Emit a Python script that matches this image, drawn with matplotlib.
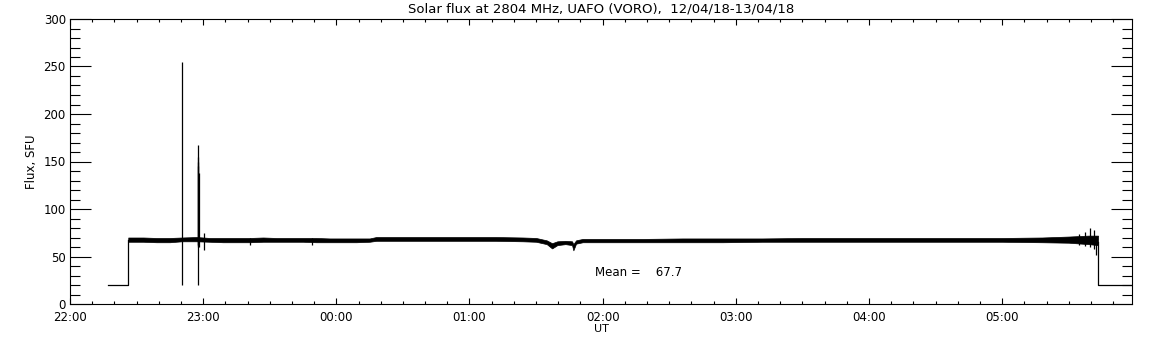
import matplotlib
matplotlib.use("Agg")
import matplotlib.pyplot as plt
from matplotlib.ticker import MultipleLocator, FuncFormatter

# ---- data (time in hours UT, 22.0 = 22:00 on 12/04, 24+ = next day) ----
# baseline (receiver off) segments
base_start_t = [22.283, 22.4375]
base_start_v = [20, 20]
base_end_t = [29.72, 29.975]
base_end_v = [20, 20]

# noise envelope of the flux trace (lower / upper edge), SFU
env_t  = [22.4375, 22.55, 22.65, 22.75, 22.84, 22.95, 23.05, 23.15, 23.25, 23.35,
          23.45, 23.55, 23.65, 23.75, 23.85, 23.95, 24.05, 24.15, 24.25, 24.30,
          24.40, 24.60, 24.80, 25.00, 25.20, 25.40, 25.50, 25.58, 25.62, 25.66,
          25.72, 25.77, 25.78, 25.80, 25.85, 26.00, 26.30, 26.60, 26.90, 27.20,
          27.50, 27.80, 28.10, 28.40, 28.70, 29.00, 29.30, 29.50, 29.65, 29.72]
env_lo = [65.5, 65.5, 65.0, 65.0, 66.0, 66.0, 65.5, 65.0, 65.0, 65.0,
          65.5, 65.5, 65.5, 65.5, 65.0, 65.0, 65.0, 65.0, 65.5, 66.5,
          66.5, 66.5, 66.5, 66.5, 66.5, 66.0, 65.5, 63.0, 58.5, 62.0,
          63.0, 62.0, 56.5, 63.5, 65.0, 65.0, 65.0, 65.0, 65.0, 65.5,
          65.5, 65.5, 65.5, 65.5, 65.5, 65.5, 65.0, 64.5, 63.0, 62.0]
env_hi = [70.0, 70.0, 69.5, 69.5, 70.0, 70.5, 69.5, 69.5, 69.5, 69.5,
          70.0, 69.5, 69.5, 69.5, 69.5, 69.0, 69.0, 69.0, 69.0, 70.5,
          70.5, 70.5, 70.5, 70.5, 70.5, 70.0, 69.5, 67.0, 64.0, 66.0,
          66.5, 66.0, 63.0, 67.0, 68.5, 68.5, 68.5, 69.0, 69.0, 69.0,
          69.5, 69.5, 69.5, 69.5, 69.5, 69.5, 70.0, 71.0, 72.0, 72.0]

# individual spikes / glitches: time, low, high
spike_t  = [22.8417, 22.9583, 22.9600, 22.9625, 22.9645, 22.9667, 23.0067,
            23.35, 23.82, 29.58, 29.62, 29.66, 29.69, 29.705]
spike_lo = [20, 62, 62, 20, 60, 60, 57, 62, 62, 62, 61, 60, 58, 52]
spike_hi = [255, 155, 150, 167, 145, 138, 75, 70, 70, 74, 76, 80, 78, 72]

mean_value = 67.7
title = "Solar flux at 2804 MHz, UAFO (VORO),  12/04/18-13/04/18"

# ---- figure ----
plt.rcParams["font.family"] = ["DejaVu Sans"]
fig = plt.figure(figsize=(11.52, 3.45), dpi=100)
ax = fig.add_axes([70/1152, 1-304/345, (1132-70)/1152, (304-19)/345])

lw = 0.9
ax.plot(base_start_t + [base_start_t[-1]], base_start_v + [env_lo[0] + 1.5],
        color="black", lw=lw)
ax.plot([env_t[-1]] + base_end_t, [env_lo[-1] + 3] + base_end_v,
        color="black", lw=lw)
ax.fill_between(env_t, env_lo, env_hi, color="black", lw=0.5, edgecolor="black")
ax.vlines(spike_t, spike_lo, spike_hi, color="black", lw=lw)

ax.text(25.94, 33.5, f"Mean =    {mean_value:.1f}", fontsize=8.5,
        ha="left", va="center")

ax.set_xlim(22.0, 29.975)
ax.set_ylim(0, 300)
ax.xaxis.set_major_locator(MultipleLocator(1.0))
ax.xaxis.set_minor_locator(MultipleLocator(1/6))
ax.yaxis.set_major_locator(MultipleLocator(50))
ax.yaxis.set_minor_locator(MultipleLocator(10))
ax.xaxis.set_major_formatter(FuncFormatter(lambda v, p: f"{int(round(v)) % 24:02d}:00"))
ax.yaxis.set_major_formatter(FuncFormatter(lambda v, p: f"{int(v)}"))

ax.tick_params(axis="x", which="major", direction="in", length=4.0, width=0.8,
               top=True, bottom=True, labelsize=8.5, pad=5)
ax.tick_params(axis="x", which="minor", direction="in", length=2.0, width=0.8,
               top=True, bottom=True)
ax.tick_params(axis="y", which="major", direction="in", length=15, width=0.8,
               left=True, right=True, labelsize=8.5, pad=3)
ax.tick_params(axis="y", which="minor", direction="in", length=7.5, width=0.8,
               left=True, right=True)
for s in ax.spines.values():
    s.set_linewidth(0.8)

ax.set_title(title, fontsize=9.5, pad=5)
ax.set_ylabel("Flux, SFU", fontsize=8.5, labelpad=4)
ax.set_xlabel("UT", fontsize=8, labelpad=0)

fig.savefig("out.png", dpi=100)
